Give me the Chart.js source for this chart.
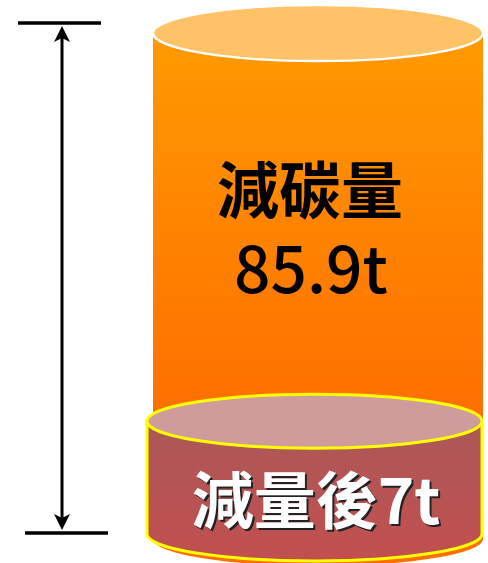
<!DOCTYPE html>
<html lang="zh-Hant">
<head>
    <meta charset="UTF-8">
    <title>減碳量</title>
    <script src="https://cdn.jsdelivr.net/npm/chart.js@4.4.0/dist/chart.umd.min.js"></script>
    <style>
        html, body { margin: 0; padding: 0; background: #fff; }
        #wrap { width: 488px; height: 563px; }
    </style>
</head>
<body>
    <div id="wrap"><canvas id="cyl" width="488" height="563"></canvas></div>

    <script>
        // data
        const categories = ['減碳'];
        const seriesNames = ['減量後', '減碳量'];
        const afterCut = [7];       // bottom cylinder (t)
        const carbonCut = [85.9];   // top cylinder (t)
        const unit = 't';

        const FONT = '"Noto Sans CJK TC", "Noto Sans", sans-serif';

        // draws the two bars as cylinders plus the height arrow on the left
        const cylinders = {
            id: 'cylinders',
            afterDatasetsDraw(chart) {
                const ctx = chart.ctx;
                const red = chart.getDatasetMeta(0).data[0];
                const orange = chart.getDatasetMeta(1).data[0];
                const ry = 27;

                ctx.save();

                // orange cylinder, sits behind the red one
                const oL = orange.x - orange.width / 2 + 8;
                const oR = orange.x + orange.width / 2 - 2;
                const oCx = (oL + oR) / 2, oRx = (oR - oL) / 2;
                const oBot = red.base + 5;
                let g = ctx.createLinearGradient(0, orange.y, 0, red.y);
                g.addColorStop(0, '#ff9a00');
                g.addColorStop(1, '#ff6e00');
                ctx.fillStyle = g;
                ctx.beginPath();
                ctx.moveTo(oL, orange.y);
                ctx.lineTo(oL, oBot);
                ctx.ellipse(oCx, oBot, oRx, ry, 0, Math.PI, 0, true);
                ctx.lineTo(oR, orange.y);
                ctx.closePath();
                ctx.fill();

                ctx.beginPath();
                ctx.ellipse(oCx, orange.y, oRx, ry + 1, 0, 0, Math.PI * 2);
                ctx.fillStyle = '#ffc266';
                ctx.fill();
                ctx.lineWidth = 2.5;
                ctx.strokeStyle = '#ffffff';
                ctx.stroke();

                // red cylinder
                const rL = red.x - red.width / 2 + 2;
                const rR = red.x + red.width / 2 - 3;
                const rCx = (rL + rR) / 2, rRx = (rR - rL) / 2;
                g = ctx.createLinearGradient(0, red.y, 0, red.base + ry);
                g.addColorStop(0, '#ac5858');
                g.addColorStop(1, '#c24f4f');
                ctx.fillStyle = g;
                ctx.beginPath();
                ctx.moveTo(rL, red.y);
                ctx.lineTo(rL, red.base);
                ctx.ellipse(rCx, red.base, rRx, ry, 0, Math.PI, 0, true);
                ctx.lineTo(rR, red.y);
                ctx.closePath();
                ctx.fill();
                ctx.lineWidth = 3;
                ctx.strokeStyle = '#ffff00';
                ctx.stroke();

                ctx.beginPath();
                ctx.ellipse(rCx, red.y, rRx, ry, 0, 0, Math.PI * 2);
                ctx.fillStyle = '#cf9b9b';
                ctx.fill();
                ctx.stroke();

                // labels
                ctx.textAlign = 'center';
                const mid = (orange.y + red.y) / 2;
                ctx.fillStyle = '#000';
                ctx.textBaseline = 'middle';
                ctx.font = 'bold 62px ' + FONT;
                ctx.fillText(seriesNames[1], orange.x - 5, mid - 37);
                ctx.textBaseline = 'alphabetic';
                ctx.font = '500 64px ' + FONT;
                ctx.fillText(carbonCut[0] + unit, orange.x - 4, mid + 66);

                ctx.textBaseline = 'middle';
                ctx.font = 'bold 62px ' + FONT;
                const lbl = seriesNames[0] + afterCut[0] + unit;
                ctx.fillStyle = '#222';
                ctx.fillText(lbl, red.x + 3, red.base - 32);
                ctx.fillStyle = '#fff';
                ctx.fillText(lbl, red.x + 1, red.base - 34);

                // height arrow
                const ax = 62, top = 23, bot = 533;
                ctx.strokeStyle = '#000';
                ctx.fillStyle = '#000';
                ctx.lineWidth = 3.5;
                ctx.beginPath();
                ctx.moveTo(18, top); ctx.lineTo(101, top);
                ctx.moveTo(25, bot); ctx.lineTo(108, bot);
                ctx.stroke();
                ctx.lineWidth = 3;
                ctx.beginPath();
                ctx.moveTo(ax, top + 14); ctx.lineTo(ax, bot - 14);
                ctx.stroke();
                ctx.beginPath();
                ctx.moveTo(ax, top + 3); ctx.lineTo(ax - 8, top + 19); ctx.lineTo(ax, top + 15); ctx.lineTo(ax + 8, top + 19);
                ctx.closePath();
                ctx.fill();
                ctx.beginPath();
                ctx.moveTo(ax, bot - 3); ctx.lineTo(ax - 8, bot - 19); ctx.lineTo(ax, bot - 15); ctx.lineTo(ax + 8, bot - 19);
                ctx.closePath();
                ctx.fill();

                ctx.restore();
            }
        };

        new Chart(document.getElementById('cyl'), {
            type: 'bar',
            data: {
                labels: categories,
                datasets: [
                    { label: seriesNames[0], data: afterCut, backgroundColor: 'rgba(0,0,0,0)' },
                    { label: seriesNames[1], data: carbonCut, backgroundColor: 'rgba(0,0,0,0)' }
                ]
            },
            options: {
                responsive: false,
                animation: false,
                layout: { padding: { left: 145, right: 3, top: 5, bottom: 29 } },
                plugins: { legend: { display: false }, tooltip: { enabled: false } },
                datasets: { bar: { barThickness: 340 } },
                scales: {
                    x: { display: false, stacked: true },
                    y: { display: false, stacked: true, type: 'logarithmic', min: 3.3, max: 112 }
                }
            },
            plugins: [cylinders]
        });
    </script>
</body>
</html>
